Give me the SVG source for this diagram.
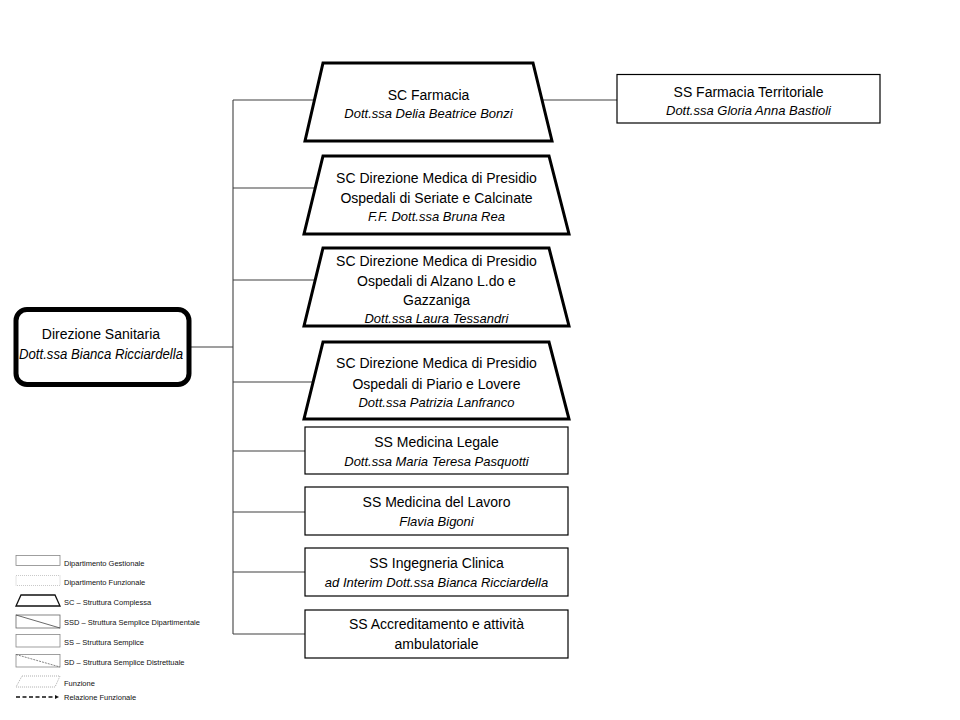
<svg xmlns="http://www.w3.org/2000/svg" width="960" height="720" viewBox="0 0 960 720">
<style>
text{font-family:"Liberation Sans",Arial,sans-serif;fill:#000;text-anchor:middle}
.t{font-size:14px}
.i{font-size:13px;font-style:italic}
.trap{fill:#fff;stroke:#000;stroke-width:3;stroke-linejoin:miter}
.ss{fill:#fff;stroke:#000;stroke-width:1.2}
.conn line{stroke:#404040;stroke-width:1.1}
.lg{font-size:7.5px;text-anchor:start;fill:#111}
</style>
<rect width="960" height="720" fill="#fff"/>
<g id="connectors" class="conn">
<line x1="233" y1="100" x2="233" y2="634"/>
<line x1="189" y1="347" x2="233" y2="347"/>
<line x1="233" y1="100" x2="316" y2="100"/>
<line x1="542" y1="100" x2="617" y2="100"/>
<line x1="233" y1="188" x2="316" y2="188"/>
<line x1="233" y1="280" x2="316" y2="280"/>
<line x1="233" y1="382" x2="316" y2="382"/>
<line x1="233" y1="451" x2="305" y2="451"/>
<line x1="233" y1="512" x2="305" y2="512"/>
<line x1="233" y1="572" x2="305" y2="572"/>
<line x1="233" y1="634" x2="305" y2="634"/>
</g>
<g id="direzione-sanitaria">
<rect x="16" y="309.5" width="173" height="75" rx="11" fill="#fff" stroke="#000" stroke-width="5"/>
<text class="t" x="101" y="339">Direzione Sanitaria</text>
<text class="t" x="101" y="359" font-style="italic" textLength="164" lengthAdjust="spacingAndGlyphs">Dott.ssa Bianca Ricciardella</text>
</g>
<g id="sc-farmacia">
<polygon class="trap" points="323,63 533,63 552,141 305,141"/>
<text class="t" x="428.5" y="100">SC Farmacia</text>
<text class="i" x="428.5" y="118">Dott.ssa Delia Beatrice Bonzi</text>
</g>
<g id="ss-farmacia-territoriale">
<rect class="ss" x="617" y="74.5" width="263" height="48.5"/>
<text class="t" x="748.5" y="97">SS Farmacia Territoriale</text>
<text class="i" x="748.5" y="115">Dott.ssa Gloria Anna Bastioli</text>
</g>
<g id="sc-dmp-seriate">
<polygon class="trap" points="323,156 549,156 569,234 304,234"/>
<text class="t" x="436.5" y="183">SC Direzione Medica di Presidio</text>
<text class="t" x="436.5" y="203">Ospedali di Seriate e Calcinate</text>
<text class="i" x="436.5" y="221">F.F. Dott.ssa Bruna Rea</text>
</g>
<g id="sc-dmp-alzano">
<polygon class="trap" points="323,248 549,248 569,326 304,326"/>
<text class="t" x="436.5" y="266">SC Direzione Medica di Presidio</text>
<text class="t" x="436.5" y="286">Ospedali di Alzano L.do e</text>
<text class="t" x="436.5" y="305">Gazzaniga</text>
<text class="i" x="436.5" y="323">Dott.ssa Laura Tessandri</text>
</g>
<g id="sc-dmp-piario">
<polygon class="trap" points="323,342 549,342 569,419 304,419"/>
<text class="t" x="436.5" y="368">SC Direzione Medica di Presidio</text>
<text class="t" x="436.5" y="389">Ospedali di Piario e Lovere</text>
<text class="i" x="436.5" y="407">Dott.ssa Patrizia Lanfranco</text>
</g>
<g id="ss-medicina-legale">
<rect class="ss" x="305" y="427" width="263" height="47"/>
<text class="t" x="436.5" y="447">SS Medicina Legale</text>
<text class="i" x="436.5" y="466">Dott.ssa Maria Teresa Pasquotti</text>
</g>
<g id="ss-medicina-lavoro">
<rect class="ss" x="305" y="487" width="263" height="48"/>
<text class="t" x="436.5" y="507">SS Medicina del Lavoro</text>
<text class="i" x="436.5" y="526">Flavia Bigoni</text>
</g>
<g id="ss-ingegneria-clinica">
<rect class="ss" x="305" y="548" width="263" height="48"/>
<text class="t" x="436.5" y="568">SS Ingegneria Clinica</text>
<text class="i" x="436.5" y="587">ad Interim Dott.ssa Bianca Ricciardella</text>
</g>
<g id="ss-accreditamento">
<rect class="ss" x="305" y="610" width="263" height="48"/>
<text class="t" x="436.5" y="629">SS Accreditamento  e attività</text>
<text class="t" x="436.5" y="649">ambulatoriale</text>
</g>
<g id="legend">
<rect x="16" y="555.5" width="44" height="10" fill="#fff" stroke="#888" stroke-width="0.8"/>
<text class="lg" x="64" y="566">Dipartimento Gestionale</text>
<rect x="16" y="575.5" width="44" height="10" fill="#fff" stroke="#bbb" stroke-width="0.8" stroke-dasharray="1,1"/>
<text class="lg" x="64" y="585">Dipartimento Funzionale</text>
<polygon points="21,595 55,595 60,606 16,606" fill="#fff" stroke="#111" stroke-width="1.3"/>
<text class="lg" x="64" y="605">SC – Struttura Complessa</text>
<rect x="16" y="615" width="44" height="13" fill="#fff" stroke="#666" stroke-width="0.8"/>
<line x1="16" y1="615" x2="60" y2="628" stroke="#444" stroke-width="0.8"/>
<text class="lg" x="64" y="625">SSD – Struttura Semplice Dipartimentale</text>
<rect x="16" y="634.5" width="44" height="12.5" fill="#fff" stroke="#888" stroke-width="0.8"/>
<text class="lg" x="64" y="645">SS – Struttura Semplice</text>
<rect x="16" y="654.5" width="44" height="12.5" fill="#fff" stroke="#888" stroke-width="0.8"/>
<line x1="16" y1="654.5" x2="60" y2="667" stroke="#666" stroke-width="0.8" stroke-dasharray="2,1"/>
<text class="lg" x="64" y="665">SD – Struttura Semplice Distrettuale</text>
<polygon points="22,676 60,676 55,687 16,687" fill="#fff" stroke="#999" stroke-width="0.8" stroke-dasharray="1,1"/>
<text class="lg" x="64" y="686">Funzione</text>
<line x1="16" y1="697" x2="56" y2="697" stroke="#111" stroke-width="1.3" stroke-dasharray="4,2.5"/>
<polygon points="55,695 59,697 55,699" fill="#111"/>
<text class="lg" x="64" y="700">Relazione Funzionale</text>
</g>
</svg>
